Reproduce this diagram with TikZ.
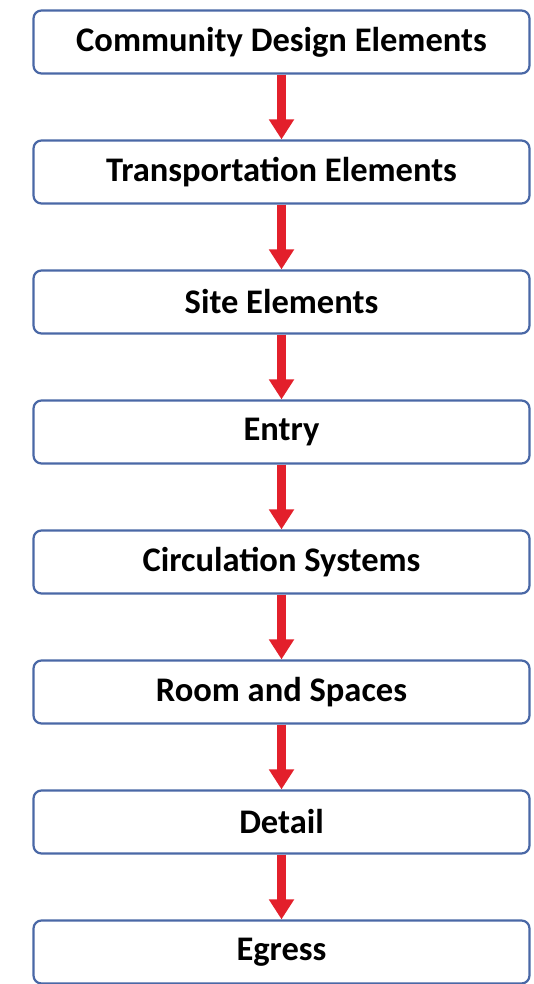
\documentclass[tikz,border=0pt]{standalone}
\usepackage{fontspec}
\setmainfont{Carlito}
\usetikzlibrary{positioning,arrows.meta}

\definecolor{boxblue}{HTML}{4A68A6}
\definecolor{arrred}{HTML}{E3202B}

\begin{document}
\begin{tikzpicture}[x=1pt,y=1pt,
  stage/.style={draw=boxblue,line width=2.2pt,fill=white,rounded corners=8pt,
    minimum width=496pt,minimum height=63pt,inner sep=0pt,
    font=\fontsize{34.5}{40}\selectfont\bfseries},
  flow/.style={draw=arrred,line width=9pt,-{Triangle[width=24pt,length=20pt]}}]

% Frame
\useasboundingbox (0,0) rectangle (533,-984);

% Stages
\node[stage] (community) at (281.5,-42) {Community Design Elements};
\node[stage,below=64.8pt of community] (transport) {Transportation Elements};
\node[stage,below=64.8pt of transport] (site) {Site Elements};
\node[stage,below=64.8pt of site] (entry) {Entry};
\node[stage,below=64.8pt of entry] (circulation) {Circulation Systems};
\node[stage,below=64.8pt of circulation] (rooms) {Room and Spaces};
\node[stage,below=64.8pt of rooms] (detail) {Detail};
\node[stage,below=64.8pt of detail] (egress) {Egress};

% Arrows
\foreach \a/\b in {community/transport,transport/site,site/entry,entry/circulation,
  circulation/rooms,rooms/detail,detail/egress}
  \draw[flow] (\a.south) -- (\b.north);

\end{tikzpicture}
\end{document}
